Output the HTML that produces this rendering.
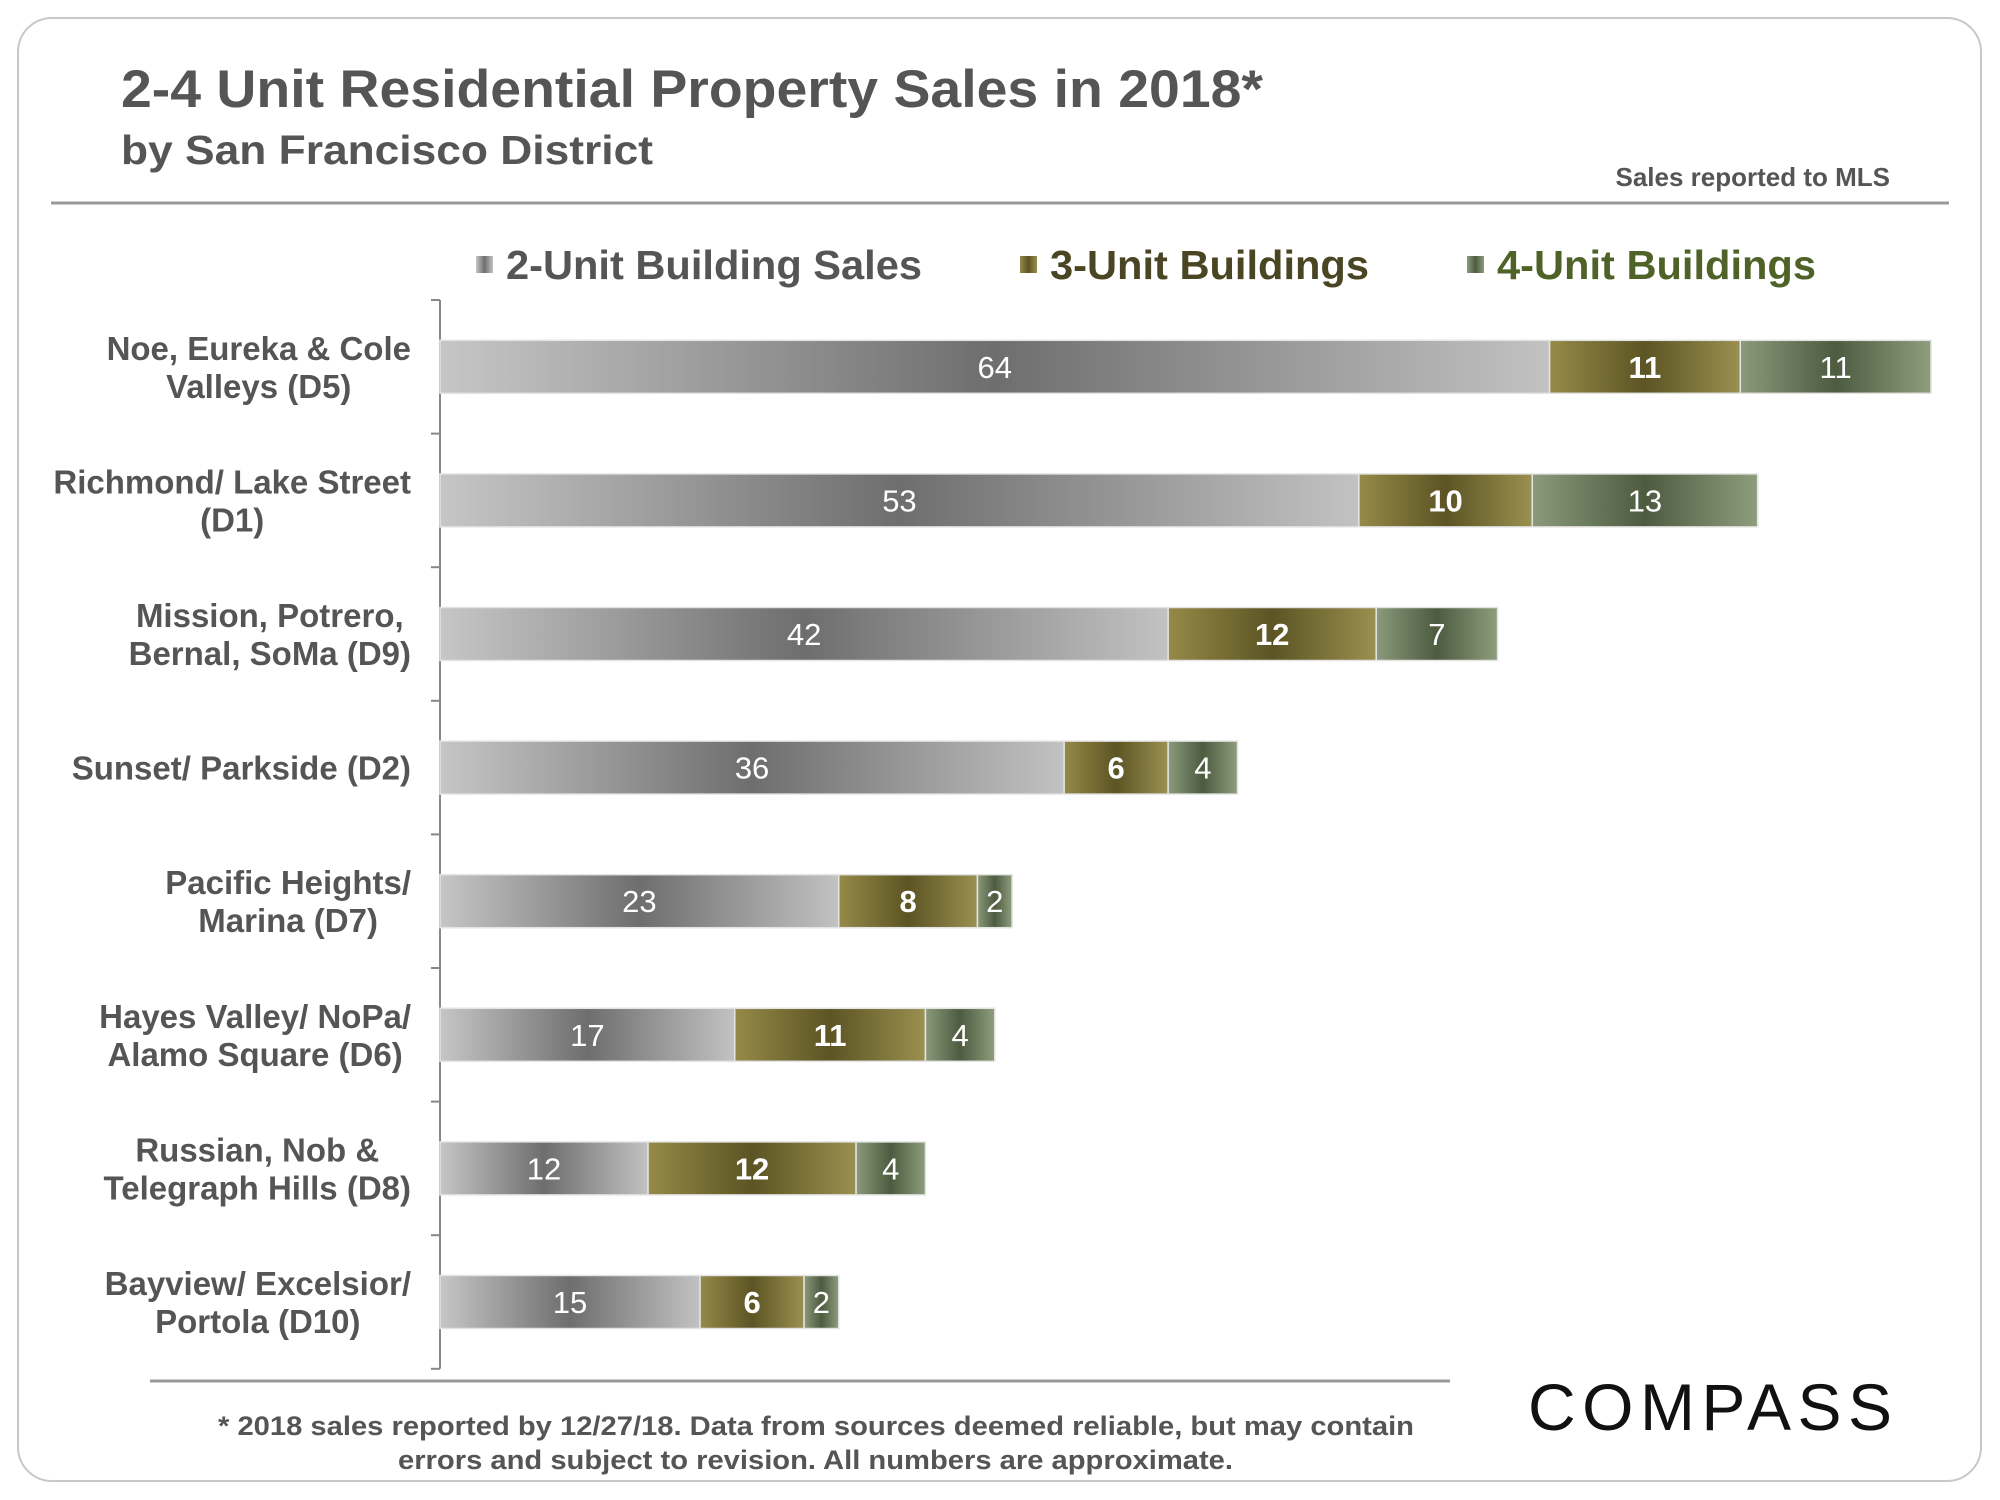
<!DOCTYPE html>
<html><head><meta charset="utf-8"><style>
html,body{margin:0;padding:0;background:#fff;}
svg{display:block;font-family:"Liberation Sans",Arial,sans-serif;}
</style></head><body>
<svg id="chart" width="2000" height="1500" viewBox="0 0 2000 1500">
<defs>
<linearGradient id="g2" x1="0" x2="1" y1="0" y2="0"><stop offset="0" stop-color="#c6c6c6"/><stop offset="0.5" stop-color="#6e6e6e"/><stop offset="1" stop-color="#c2c2c2"/></linearGradient>
<linearGradient id="g3" x1="0" x2="1" y1="0" y2="0"><stop offset="0" stop-color="#958a48"/><stop offset="0.5" stop-color="#5c5424"/><stop offset="1" stop-color="#9a9050"/></linearGradient>
<linearGradient id="g4" x1="0" x2="1" y1="0" y2="0"><stop offset="0" stop-color="#8a9a7a"/><stop offset="0.5" stop-color="#4d5b40"/><stop offset="1" stop-color="#8e9e7c"/></linearGradient>
</defs>
<rect x="18" y="18" width="1963" height="1463" rx="34" fill="none" stroke="#c8c8c8" stroke-width="2"/>
<text x="121" y="107" font-size="53" font-weight="bold" fill="#555" textLength="1142" lengthAdjust="spacingAndGlyphs">2-4 Unit Residential Property Sales in 2018*</text>
<text x="121" y="164" font-size="41" font-weight="bold" fill="#555" textLength="532" lengthAdjust="spacingAndGlyphs">by San Francisco District</text>
<text x="1890" y="186" font-size="26" font-weight="bold" fill="#555" text-anchor="end">Sales reported to MLS</text>
<line x1="51" y1="203" x2="1949" y2="203" stroke="#999" stroke-width="3"/>
<g font-size="41" font-weight="bold">
<rect x="476" y="256" width="17" height="17" fill="url(#g2)"/>
<text x="506" y="279" fill="#555" textLength="416" lengthAdjust="spacingAndGlyphs">2-Unit Building Sales</text>
<rect x="1020" y="256" width="17" height="17" fill="url(#g3)"/>
<text x="1050" y="279" fill="#4a4522" textLength="319" lengthAdjust="spacingAndGlyphs">3-Unit Buildings</text>
<rect x="1467" y="256" width="17" height="17" fill="url(#g4)"/>
<text x="1497" y="279" fill="#4f6228" textLength="319" lengthAdjust="spacingAndGlyphs">4-Unit Buildings</text>
</g>
<g id="plot"></g>
<line x1="150" y1="1381" x2="1450" y2="1381" stroke="#999" stroke-width="3"/>
<text x="218" y="1435" font-size="27" font-weight="bold" fill="#555" textLength="1196" lengthAdjust="spacingAndGlyphs">* 2018 sales reported by 12/27/18. Data from sources deemed reliable, but may contain</text>
<text x="398" y="1469" font-size="27" font-weight="bold" fill="#555" textLength="835" lengthAdjust="spacingAndGlyphs">errors and subject to revision. All numbers are approximate.</text>
<text x="1528" y="1430" font-size="66" fill="#111" textLength="364" lengthAdjust="spacing">COMPASS</text>
</svg>
<script>
const categories = [["Noe, Eureka & Cole","Valleys (D5)"],["Richmond/ Lake Street","(D1)"],["Mission, Potrero,","Bernal, SoMa (D9)"],["Sunset/ Parkside (D2)"],["Pacific Heights/","Marina (D7)"],["Hayes Valley/ NoPa/","Alamo Square (D6)"],["Russian, Nob &","Telegraph Hills (D8)"],["Bayview/ Excelsior/","Portola (D10)"]];
const twoUnit = [64,53,42,36,23,17,12,15];
const threeUnit = [11,10,12,6,8,11,12,6];
const fourUnit = [11,13,7,4,2,4,4,2];
const NS='http://www.w3.org/2000/svg';
const plot=document.getElementById('plot');
const x0=440, pxPerUnit=(1931-440)/86, top0=300, band=133.6, barH=53;
const xs=v=>x0+v*pxPerUnit;
const yc=i=>top0+band*(i+0.5);
function mk(tag,attrs){const e=document.createElementNS(NS,tag);for(const k in attrs)e.setAttribute(k,attrs[k]);plot.appendChild(e);return e;}
const ax=mk('line',{x1:x0,y1:top0,x2:x0,y2:top0+band*8,stroke:'#888','stroke-width':2});


for(let i=0;i<=8;i++){
  const t=mk('line',{x1:x0-9,y1:top0+band*i,x2:x0,y2:top0+band*i,stroke:'#888','stroke-width':2});
  
  
}
const series=[[twoUnit,'url(#g2)','normal','2unit'],[threeUnit,'url(#g3)','bold','3unit'],[fourUnit,'url(#g4)','normal','4unit']];
categories.forEach((lines,i)=>{
  const cy=yc(i);
  const lbl=mk('text',{x:0,y:0,'font-size':33,'font-weight':'bold',fill:'#555','text-anchor':'middle'});
  
  
  const spans=[];
  lines.forEach((l,j)=>{
    const ts=document.createElementNS(NS,'tspan');
    ts.textContent=l;
    const n=lines.length;
    ts.setAttribute('x',0);
    ts.setAttribute('y',cy+12+(j-(n-1)/2)*38);
    lbl.appendChild(ts);
    spans.push(ts);
  });
  let w=0;
  spans.forEach(s=>{w=Math.max(w,s.getComputedTextLength());});
  spans.forEach(s=>s.setAttribute('x',411-w/2));
  let acc=0;
  series.forEach(([arr,fill,wt,nm])=>{
    const v=arr[i];
    const r=mk('rect',{x:xs(acc),y:cy-barH/2,width:xs(acc+v)-xs(acc),height:barH,fill:fill,stroke:'#e4e4e4','stroke-width':1.5});
    
    
    const t=mk('text',{x:(xs(acc)+xs(acc+v))/2,y:cy+11,'font-size':31,'font-weight':wt,fill:'#fff','text-anchor':'middle'});
    t.textContent=v;
    
    
    acc+=v;
  });
});
</script>
</body></html>
